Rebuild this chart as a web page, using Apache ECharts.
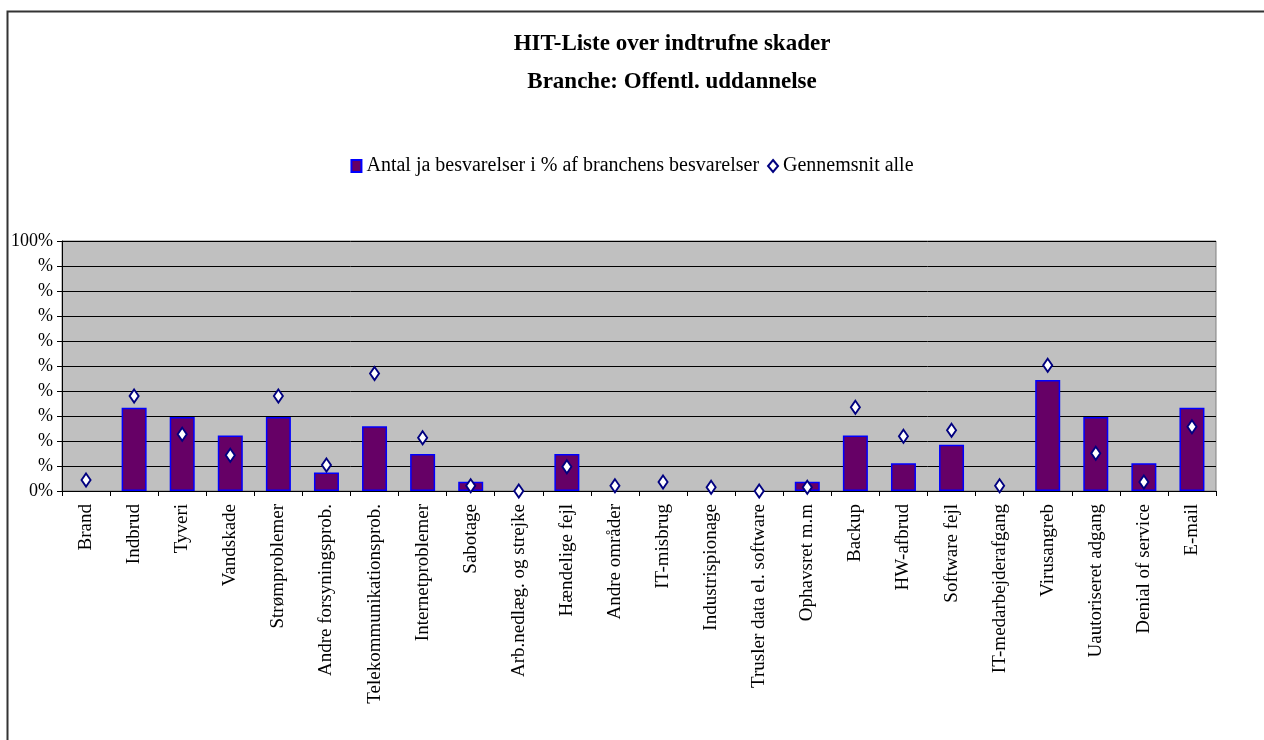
<!DOCTYPE html>
<html>
<head>
<meta charset="utf-8">
<script src="https://cdn.jsdelivr.net/npm/echarts@6/dist/echarts.min.js"></script>
<style>
  html, body { margin: 0; padding: 0; background: #fff; }
  #chart { width: 1264px; height: 740px; }
</style>
</head>
<body>
<div id="chart"></div>
<script>
const categories = [
  'Brand', 'Indbrud', 'Tyveri', 'Vandskade', 'Strømproblemer',
  'Andre forsyningsprob.', 'Telekommunikationsprob.', 'Internetproblemer',
  'Sabotage', 'Arb.nedlæg. og strejke', 'Hændelige fejl', 'Andre områder',
  'IT-misbrug', 'Industrispionage', 'Trusler data el. software', 'Ophavsret m.m',
  'Backup', 'HW-afbrud', 'Software fejl', 'IT-medarbejderafgang',
  'Virusangreb', 'Uautoriseret adgang', 'Denial of service', 'E-mail'
];

// branchens andel (%)
const branchValues = [
  0, 33.3, 29.6, 22.2, 29.6, 7.4, 25.9, 14.8,
  3.7, 0, 14.8, 0, 0, 0, 0, 3.7,
  22.2, 11.1, 18.5, 0, 44.4, 29.6, 11.1, 33.3
];

// gennemsnit alle (%)
const averageValues = [
  4.4, 38, 22.7, 14.3, 38, 10.4, 47, 21.3,
  2.1, 0, 9.7, 2.1, 3.6, 1.5, 0, 1.5,
  33.5, 21.9, 24.3, 2.1, 50.3, 15.1, 3.6, 25.7
];

// y-akse etiketter, nedefra og op
const yTickLabels = ['0%', '%', '%', '%', '%', '%', '%', '%', '%', '%', '100%'];

const serif = '"Liberation Serif", "Times New Roman", serif';

const chart = echarts.init(document.getElementById('chart'));

chart.setOption({
  backgroundColor: '#fff',
  animation: false,
  graphic: [{
    type: 'rect',
    shape: { x: 7.5, y: 11.5, width: 1400, height: 900 },
    style: { fill: 'none', stroke: '#333', lineWidth: 2 },
    silent: true
  }],
  title: {
    text: 'HIT-Liste over indtrufne skader\nBranche: Offentl. uddannelse',
    left: 667,
    textAlign: 'center',
    top: 20,
    textStyle: {
      fontFamily: serif,
      fontWeight: 'bold',
      fontSize: 23,
      lineHeight: 38,
      color: '#000'
    }
  },
  legend: {
    top: 151,
    left: 'center',
    itemGap: 8,
    itemWidth: 10,
    itemHeight: 12,
    textStyle: { fontFamily: serif, fontSize: 20, color: '#000' },
    data: [
      { name: 'Antal ja besvarelser i % af branchens besvarelser', icon: 'rect' },
      { name: 'Gennemsnit alle', icon: 'diamond' }
    ]
  },
  grid: {
    left: 62,
    right: 48,
    top: 241,
    bottom: 249,
    show: true,
    backgroundColor: '#c0c0c0',
    borderColor: '#808080',
    borderWidth: 1
  },
  xAxis: {
    type: 'category',
    data: categories,
    axisLine: { lineStyle: { color: '#000', width: 1 } },
    axisTick: { show: true, length: 5, lineStyle: { color: '#000' } },
    axisLabel: {
      rotate: 90,
      interval: 0,
      margin: 13,
      fontFamily: serif,
      fontSize: 19,
      color: '#000'
    }
  },
  yAxis: {
    type: 'value',
    min: 0,
    max: 100,
    interval: 10,
    axisLine: { show: true, lineStyle: { color: '#000', width: 1 } },
    axisTick: { show: true, length: 5, lineStyle: { color: '#000' } },
    splitLine: { lineStyle: { color: '#000', width: 1 } },
    axisLabel: {
      margin: 9,
      fontFamily: serif,
      fontSize: 18,
      color: '#000',
      formatter: (v) => yTickLabels[Math.round(v / 10)]
    }
  },
  series: [
    {
      name: 'Antal ja besvarelser i % af branchens besvarelser',
      type: 'bar',
      // nul-værdier tegnes ikke som søjle
      data: branchValues.map((v) => (v === 0 ? '-' : v)),
      barWidth: 25,
      itemStyle: { color: '#660066', borderColor: '#0000ff', borderWidth: 1.5 }
    },
    {
      name: 'Gennemsnit alle',
      type: 'scatter',
      data: averageValues,
      symbol: 'diamond',
      symbolSize: [9, 13],
      z: 5,
      itemStyle: { color: '#fff', borderColor: '#000080', borderWidth: 2, opacity: 1 }
    }
  ]
});
</script>
</body>
</html>
